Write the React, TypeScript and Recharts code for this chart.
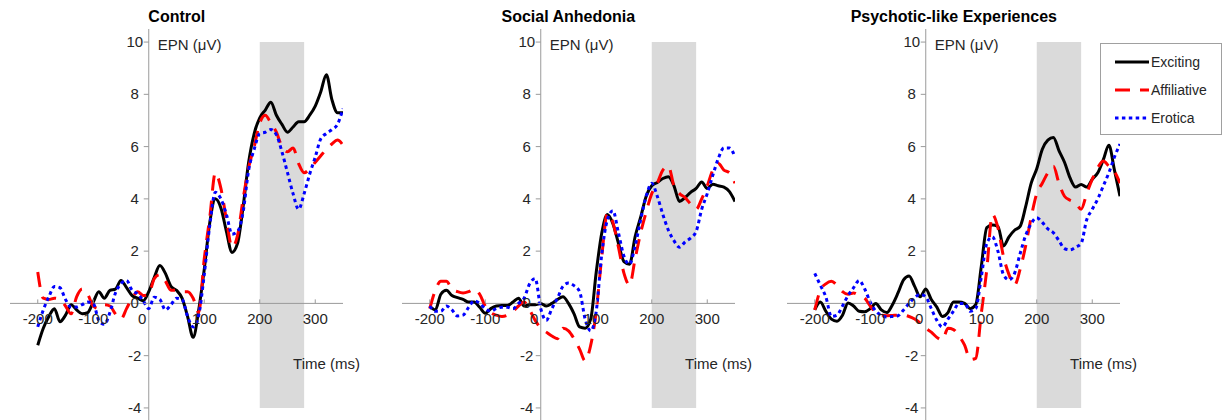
import { LineChart, Line, XAxis, YAxis, ReferenceArea, ReferenceLine, ReferenceDot, Legend } from "recharts"

const FONT = "'Liberation Sans', Arial, Helvetica, sans-serif"
const TEXT = "#262626"
const AXIS = "#9a9a9a"
const SHADE = "#dadada"

// time axis (ms), one sample every 10 ms
const TIME = [
    -200, -190, -180, -170, -160, -150, -140, -130, -120, -110,
    -100, -90, -80, -70, -60, -50, -40, -30, -20, -10,
    0, 10, 20, 30, 40, 50, 60, 70, 80, 90,
    100, 110, 120, 130, 140, 150, 160, 170, 180, 190,
    200, 210, 220, 230, 240, 250, 260, 270, 280, 290,
    300, 310, 320, 330, 340, 350,
]

// Control
const CONTROL_EXC = [
    -1.6, -0.95, -0.5, -0.2, -0.7, -0.45, -0.05, -0.25, -0.4, -0.35,
    0.05, 0.45, 0.2, 0.5, 0.55, 0.88, 0.6, 0.3, 0.2, 0.1,
    0.45, 1.0, 1.45, 1.15, 0.65, 0.5, 0.2, -0.5, -1.3, -0.25,
    1.3, 3.1, 4.0, 3.65, 2.75, 1.95, 2.3, 3.7, 5.4, 6.5,
    7.1, 7.4, 7.7, 7.2, 6.85, 6.55, 6.75, 6.95, 6.95, 7.2,
    7.55, 8.1, 8.75, 7.8, 7.3, 7.3,
]
const CONTROL_AFF = [
    1.2, 0.2, 0.15, 0.2, 0.15, -0.1, -0.4, 0.25, 0.55, 0.35,
    -0.1, -0.2, -0.05, -0.1, -0.4, -0.6, -0.2, 0.2, 0.45, 0.3,
    0.35, 0.95, 1.1, 0.85, 0.5, 0.5, 0.45, 0.45, 0.2, -0.35,
    1.7, 3.3, 5.0, 4.4, 3.2, 2.15, 2.6, 4.0, 5.2, 6.0,
    6.9, 7.2, 6.9, 6.55, 6.0, 5.8, 5.95, 5.35, 5.0, 5.15,
    5.4, 5.65, 5.9, 6.1, 6.25, 6.05,
]
const CONTROL_ERO = [
    -0.9, -0.25, 0.25, 0.65, 0.6, 0.15, -0.14, -0.14, -0.05, 0.05,
    0.0, -0.65, -0.8, -0.35, 0.4, 0.76, 0.88, 0.5, 0.37, 0.1,
    -0.2, 0.24, 0.15, -0.25, -0.05, 0.2, 0.15, -0.5, -0.9, -0.45,
    1.1, 3.0, 4.25, 4.0, 3.4, 2.65, 2.75, 3.5, 5.1, 5.9,
    6.5, 6.55, 6.65, 6.45, 5.8, 5.0, 4.2, 3.6, 4.2, 4.95,
    5.6, 6.3, 6.5, 6.65, 6.85, 7.45,
]

// Social Anhedonia
const SA_EXC = [
    -0.1, -0.25, 0.35, 0.5, 0.3, 0.22, 0.15, 0.05, 0.05, -0.15,
    -0.38, -0.2, -0.1, -0.08, -0.08, 0.05, 0.2, -0.1, -0.05, -0.05,
    0.0, -0.1, 0.0, 0.15, 0.25, 0.0, -0.4, -0.9, -0.95, -0.6,
    1.2, 2.7, 3.4, 3.05, 2.3, 1.6, 1.5, 2.55, 3.3, 4.1,
    4.5, 4.63, 4.78, 4.85, 4.5, 3.9, 4.05, 4.25, 4.4, 4.65,
    4.4, 4.56, 4.5, 4.45, 4.28, 3.9,
]
const SA_AFF = [
    -0.2, 0.5, 0.85, 0.85, 0.55, 0.45, 0.4, 0.45, 0.55, 0.35,
    -0.1, -0.35, -0.45, -0.5, -0.45, -0.3, -0.1, 0.05, -0.25, -0.65,
    -0.95, -1.1, -1.25, -1.35, -0.95, -1.05, -1.35, -1.75, -2.2, -1.6,
    -0.3, 1.8, 3.45, 3.1, 2.15, 1.15, 0.7, 1.7, 2.7, 3.5,
    4.2, 4.6, 5.1, 5.25, 4.5, 4.2, 4.05, 3.8, 3.6, 4.0,
    4.5, 5.1, 5.35, 5.1, 5.0, 4.6,
]
const SA_ERO = [
    -0.1, -0.3, -0.3, -0.1, -0.25, -0.48, -0.45, -0.15, 0.1, 0.0,
    -0.2, -0.3, -0.2, -0.15, -0.15, -0.2, 0.0, 0.2, 0.75, 0.95,
    -0.2, -0.65, -0.2, 0.2, 0.65, 0.78, 0.68, 0.45, -0.6, -1.05,
    -0.3, 1.9, 3.2, 3.55, 2.7, 1.8, 1.5, 2.2, 3.2, 4.1,
    4.6, 4.1, 3.4, 2.8, 2.4, 2.15, 2.35, 2.5, 2.75, 3.6,
    4.2, 4.9, 5.55, 5.95, 5.95, 5.6,
]

// Psychotic-like Experiences
const PLE_EXC = [
    -0.25, 0.05, -0.3, -0.6, -0.68, -0.45, 0.02, -0.1, -0.3, -0.32,
    -0.2, 0.0, -0.25, -0.35, -0.05, 0.4, 0.9, 1.05, 0.65, 0.25,
    0.55, 0.15, -0.14, -0.5, -0.35, 0.05, 0.05, 0.0, -0.2, -0.05,
    1.4, 2.9, 3.0, 2.95, 2.2, 2.55, 2.8, 2.95, 3.7, 4.6,
    5.15, 5.9, 6.25, 6.35, 5.85, 5.4, 4.8, 4.45, 4.55, 4.45,
    4.75, 5.0, 5.5, 6.05, 5.1, 4.1,
]
const PLE_AFF = [
    -0.25, 0.5, 0.75, 0.85, 0.7, 0.45, 0.35, 0.4, 0.3, 0.2,
    -0.1, -0.35, -0.45, -0.47, -0.46, -0.45, -0.45, -0.5, -0.6, -0.75,
    -0.95, -1.1, -1.3, -1.4, -0.95, -1.0, -1.25, -1.6, -2.15, -2.1,
    -0.4, 1.3, 3.4, 2.9, 1.8, 1.1, 0.7, 1.3, 2.2, 3.3,
    4.2, 4.6, 5.0, 5.25, 4.6, 4.1, 3.95, 3.85, 3.6, 4.2,
    4.75, 5.2, 5.45, 5.25, 5.05, 4.6,
]
const PLE_ERO = [
    1.15, 0.7, 0.25, -0.5, -0.45, -0.1, 0.3, 0.6, 0.88, 0.55,
    0.05, -0.3, -0.45, -0.52, -0.5, -0.47, -0.25, 0.0, 0.22, 0.35,
    0.25, -0.2, -0.65, -0.9, -0.6, -0.3, 0.0, 0.0, -0.3, -0.2,
    1.0, 2.3, 2.55, 2.0, 1.1, 0.9, 1.15, 1.9, 2.6, 3.05,
    3.28, 3.1, 2.85, 2.7, 2.4, 2.1, 2.05, 2.15, 2.3, 3.2,
    3.6, 4.0, 4.5, 5.0, 5.6, 6.1,
]

const X_TICKS = [-200, -100, 0, 100, 200, 300]
const Y_TICKS = [-4, -2, 0, 2, 4, 6, 8, 10]
const EPN_WINDOW = [200, 280]

const SERIES = [
    { key: "exciting", name: "Exciting", color: "#000000", dash: undefined },
    { key: "affiliative", name: "Affiliative", color: "#ff0000", dash: "15 10" },
    { key: "erotica", name: "Erotica", color: "#0000ff", dash: "3.5 3.4" },
]

const PLOT_W = 333
const PLOT_TOP = 29
const PLOT_H = 392

const PANELS = [
    { title: "Control", left: 10.3, exc: CONTROL_EXC, aff: CONTROL_AFF, ero: CONTROL_ERO, legend: false },
    { title: "Social Anhedonia", left: 401.8, exc: SA_EXC, aff: SA_AFF, ero: SA_ERO, legend: false },
    { title: "Psychotic-like Experiences", left: 787.3, exc: PLE_EXC, aff: PLE_AFF, ero: PLE_ERO, legend: true },
]

function XTick(props: any) {
    const { viewBox, text, shift = 0 } = props
    if (!viewBox) return null
    const { x, y } = viewBox
    return (
        <g>
            <line x1={x} x2={x} y1={y} y2={y - 4} stroke={AXIS} />
            <text x={x + shift} y={y + 21} textAnchor="middle" fontSize={15} fontFamily={FONT} fill={TEXT}>
                {text}
            </text>
        </g>
    )
}

function YTick(props: any) {
    const { viewBox, text } = props
    if (!viewBox) return null
    const { x, y } = viewBox
    return (
        <g>
            <line x1={x - 5} x2={x} y1={y} y2={y} stroke={AXIS} />
            <text x={x - 14} y={y + 5} textAnchor="middle" fontSize={15} fontFamily={FONT} fill={TEXT}>
                {text}
            </text>
        </g>
    )
}

function FreeText(props: any) {
    const { viewBox, text, ox = 0, oy = 0 } = props
    if (!viewBox) return null
    return (
        <text x={viewBox.x + ox} y={viewBox.y + oy} textAnchor="start" fontSize={15} fontFamily={FONT} fill={TEXT}>
            {text}
        </text>
    )
}

function LegendBox() {
    return (
        <svg width={122} height={92} style={{ display: "block" }}>
            <rect x={0.5} y={0.5} width={121} height={91} fill="#ffffff" stroke="#a0a0a0" />
            {SERIES.map((s, i) => {
                const y = 19 + i * 28
                return (
                    <g key={s.key}>
                        <line x1={15} x2={49} y1={y} y2={y} stroke={s.color} strokeWidth={3} strokeDasharray={s.dash} />
                        <text x={51} y={y + 5} fontSize={14} fontFamily={FONT} fill={TEXT}>
                            {s.name}
                        </text>
                    </g>
                )
            })}
        </svg>
    )
}

function Panel({ panel }: { panel: (typeof PANELS)[number] }) {
    const rows = TIME.map((t, i) => ({
        t,
        exciting: panel.exc[i],
        affiliative: panel.aff[i],
        erotica: panel.ero[i],
    }))
    // extra room on the right so the "Time (ms)" label (and the legend) are not clipped
    const right = panel.legend ? 105 : 40
    return (
        <div style={{ position: "absolute", left: panel.left, top: 0 }}>
            <div
                style={{
                    position: "absolute",
                    left: 0,
                    top: 9,
                    width: PLOT_W,
                    textAlign: "center",
                    fontFamily: FONT,
                    fontWeight: "bold",
                    fontSize: 16,
                    lineHeight: "16px",
                    color: "#000",
                    whiteSpace: "nowrap",
                }}
            >
                {panel.title}
            </div>
            <LineChart
                width={PLOT_W + right}
                height={PLOT_TOP + PLOT_H + 1}
                data={rows}
                margin={{ top: PLOT_TOP, right, bottom: 1, left: 0 }}
            >
                <XAxis type="number" dataKey="t" domain={[-250, 350]} hide allowDataOverflow />
                <YAxis type="number" domain={[-4.5, 10.5]} hide allowDataOverflow />
                <ReferenceArea
                    x1={EPN_WINDOW[0]}
                    x2={EPN_WINDOW[1]}
                    y1={-4}
                    y2={10}
                    fill={SHADE}
                    fillOpacity={1}
                    stroke="none"
                />
                <ReferenceLine y={0} stroke={AXIS} strokeWidth={1} />
                <ReferenceLine x={0} stroke={AXIS} strokeWidth={1} />
                {X_TICKS.map((t) => (
                    <ReferenceDot
                        key={"x" + t}
                        x={t}
                        y={0}
                        r={0}
                        fill="none"
                        stroke="none"
                        label={<XTick text={String(t)} shift={t === 0 ? -6.5 : 0} />}
                    />
                ))}
                {Y_TICKS.map((v) => (
                    <ReferenceDot
                        key={"y" + v}
                        x={0}
                        y={v}
                        r={0}
                        fill="none"
                        stroke="none"
                        label={<YTick text={String(v)} />}
                    />
                ))}
                <ReferenceDot x={0} y={10} r={0} fill="none" stroke="none" label={<FreeText text="EPN (μV)" ox={9} oy={8} />} />
                <ReferenceDot x={260} y={-2.5} r={0} fill="none" stroke="none" label={<FreeText text="Time (ms)" />} />
                {SERIES.map((s) => (
                    <Line
                        key={s.key}
                        type="monotone"
                        dataKey={s.key}
                        name={s.name}
                        stroke={s.color}
                        strokeWidth={3}
                        strokeDasharray={s.dash}
                        dot={false}
                        activeDot={false}
                        isAnimationActive={false}
                    />
                ))}
                {panel.legend && (
                    <Legend
                        layout="horizontal"
                        verticalAlign="middle"
                        align="center"
                        content={<LegendBox />}
                        wrapperStyle={{ left: 1100 - panel.left, top: 43, width: 122, height: 92 }}
                    />
                )}
            </LineChart>
        </div>
    )
}

export default function App() {
    return (
        <div
            style={{
                position: "absolute",
                left: 0,
                top: 0,
                width: 1224,
                height: 420,
                overflow: "hidden",
                background: "#ffffff",
            }}
        >
            {PANELS.map((p) => (
                <Panel key={p.title} panel={p} />
            ))}
        </div>
    )
}
